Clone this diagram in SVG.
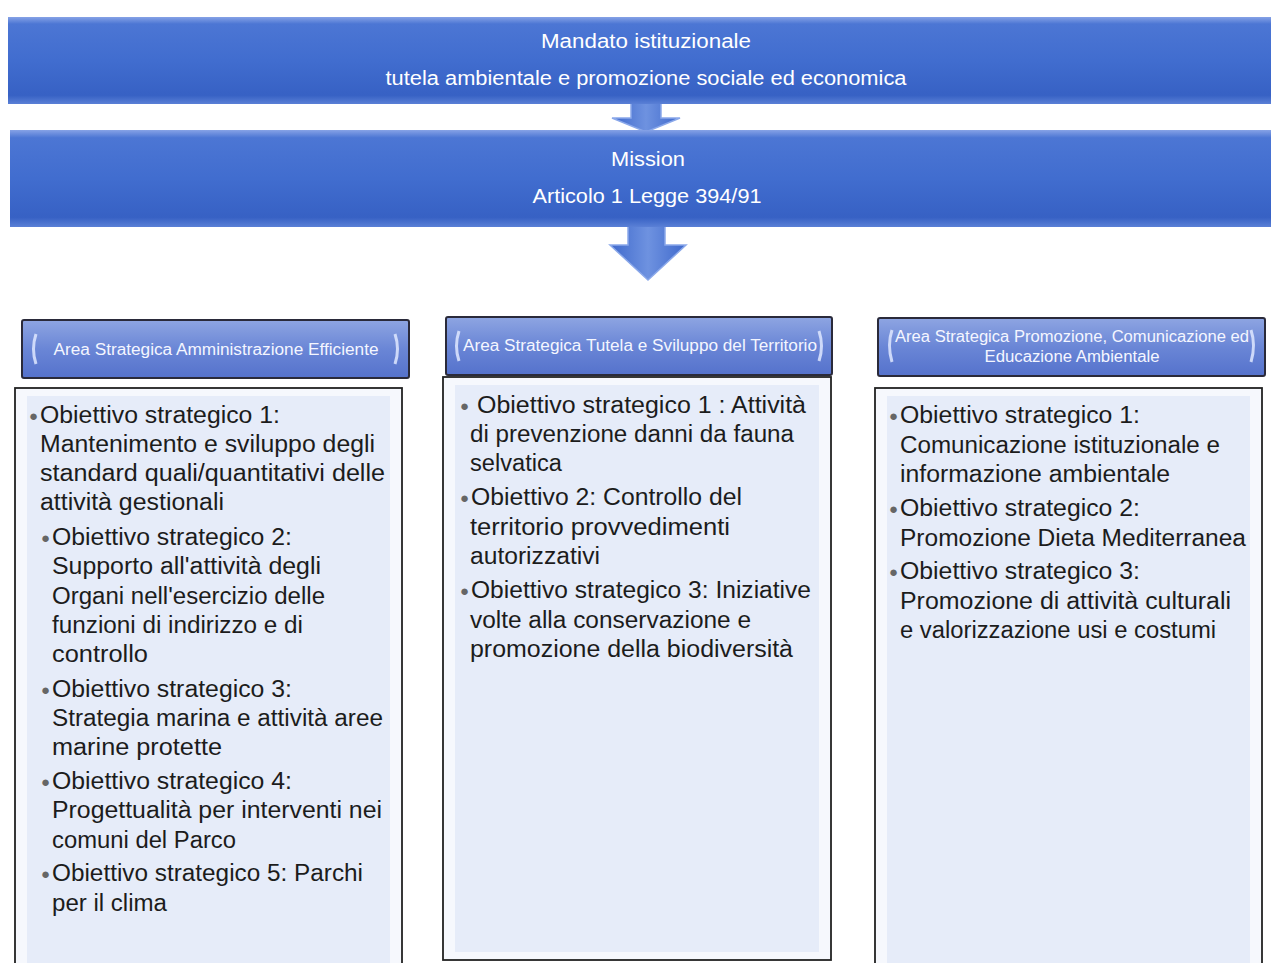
<svg xmlns="http://www.w3.org/2000/svg" width="1271" height="963" viewBox="0 0 1271 963">
<style>
.bt{font-family:"Liberation Sans",Arial,sans-serif;font-size:20px;fill:#ffffff;text-anchor:middle}
.ht{font-family:"Liberation Sans",Arial,sans-serif;font-size:16px;fill:#f4f6ff;text-anchor:middle}
.ct{font-family:"Liberation Sans",Arial,sans-serif;font-size:23.5px;fill:#1c1c1c}
.bl{font-size:15px;fill:#666}
.box{fill:#f6f8fd;stroke:#222;stroke-width:1.8}
.inner{fill:#e6ecf9;stroke:none}
.hdr{fill:url(#hdrg);stroke:#2a2a3a;stroke-width:2}
.brk{fill:none;stroke:#dfe8ff;stroke-width:3;opacity:0.85}
.arrow{fill:url(#arrg);stroke:#8aa8ea;stroke-width:1.5}
</style>
<defs>
<linearGradient id="banner" x1="0" y1="0" x2="0" y2="1">
<stop offset="0" stop-color="#86a2e6"/>
<stop offset="0.08" stop-color="#4c76d4"/>
<stop offset="0.5" stop-color="#416dcf"/>
<stop offset="0.9" stop-color="#3761c4"/>
<stop offset="1" stop-color="#5a80d6"/>
</linearGradient>
<linearGradient id="hdrg" x1="0" y1="0" x2="0" y2="1">
<stop offset="0" stop-color="#8ea5e2"/>
<stop offset="0.5" stop-color="#6a86d6"/>
<stop offset="1" stop-color="#5572cc"/>
</linearGradient>
<linearGradient id="arrg" x1="0" y1="0" x2="1" y2="0">
<stop offset="0" stop-color="#3f69cc"/>
<stop offset="0.5" stop-color="#6e92e0"/>
<stop offset="1" stop-color="#3f69cc"/>
</linearGradient>
</defs>

<g id="connectors">
<polygon class="arrow" points="631,95 661,95 661,118 680,118 646,132 612,118 631,118"/>
<polygon class="arrow" points="628,222 665,222 665,245 686,245 648,280 610,245 628,245"/>
</g>

<g id="mandato">
<rect x="8" y="17" width="1270" height="87" fill="url(#banner)"/>
<text class="bt" x="646" y="48" textLength="210" lengthAdjust="spacingAndGlyphs">Mandato istituzionale</text>
<text class="bt" x="646" y="85" textLength="521" lengthAdjust="spacingAndGlyphs">tutela ambientale e promozione sociale ed economica</text>
</g>

<g id="mission">
<rect x="10" y="130" width="1268" height="97" fill="url(#banner)"/>
<text class="bt" x="648" y="166" textLength="74" lengthAdjust="spacingAndGlyphs">Mission</text>
<text class="bt" x="647" y="203" textLength="229" lengthAdjust="spacingAndGlyphs">Articolo 1 Legge 394/91</text>
</g>

<g id="area1">
<rect class="hdr" x="22" y="320" width="387" height="58" rx="2"/>
<path class="brk" d="M36,334 Q31,349 36,364"/>
<path class="brk" d="M395,334 Q400,349 395,364"/>
<text class="ht" x="216" y="355" textLength="325" lengthAdjust="spacingAndGlyphs">Area Strategica  Amministrazione Efficiente</text>
</g>

<g id="area2">
<rect class="hdr" x="446" y="317" width="386" height="58" rx="2"/>
<path class="brk" d="M459,331 Q454,346 459,361"/>
<path class="brk" d="M819,331 Q824,346 819,361"/>
<text class="ht" x="640" y="351" textLength="354" lengthAdjust="spacingAndGlyphs">Area Strategica Tutela  e Sviluppo del Territorio</text>
</g>

<g id="area3">
<rect class="hdr" x="878" y="318" width="387" height="58" rx="2"/>
<path class="brk" d="M892,330 Q887,345 892,362"/>
<path class="brk" d="M1251,330 Q1256,345 1251,362"/>
<text class="ht" x="1072" y="342" textLength="354" lengthAdjust="spacingAndGlyphs">Area Strategica Promozione, Comunicazione ed</text>
<text class="ht" x="1072" y="362" textLength="175" lengthAdjust="spacingAndGlyphs">Educazione Ambientale</text>
</g>

<g id="obiettivi1">
<rect class="box" x="15" y="388" width="387" height="590"/>
<rect class="inner" x="27" y="396" width="363" height="580"/>
<text class="ct"><tspan class="bl" x="29" y="421">●</tspan><tspan x="40" y="423" textLength="240" lengthAdjust="spacingAndGlyphs">Obiettivo strategico 1:</tspan></text>
<text class="ct" x="40" y="452" textLength="335" lengthAdjust="spacingAndGlyphs">Mantenimento e sviluppo degli</text>
<text class="ct" x="40" y="481" textLength="345" lengthAdjust="spacingAndGlyphs">standard quali/quantitativi delle</text>
<text class="ct" x="40" y="510" textLength="184" lengthAdjust="spacingAndGlyphs">attività gestionali</text>
<text class="ct"><tspan class="bl" x="41" y="543">●</tspan><tspan x="52" y="545" textLength="240" lengthAdjust="spacingAndGlyphs">Obiettivo strategico 2:</tspan></text>
<text class="ct" x="52" y="574" textLength="269" lengthAdjust="spacingAndGlyphs">Supporto all'attività degli</text>
<text class="ct" x="52" y="604" textLength="273" lengthAdjust="spacingAndGlyphs">Organi nell'esercizio delle</text>
<text class="ct" x="52" y="633" textLength="251" lengthAdjust="spacingAndGlyphs">funzioni di indirizzo e di</text>
<text class="ct" x="52" y="662" textLength="96" lengthAdjust="spacingAndGlyphs">controllo</text>
<text class="ct"><tspan class="bl" x="41" y="695">●</tspan><tspan x="52" y="697" textLength="240" lengthAdjust="spacingAndGlyphs">Obiettivo strategico 3:</tspan></text>
<text class="ct" x="52" y="726" textLength="331" lengthAdjust="spacingAndGlyphs">Strategia marina e attività aree</text>
<text class="ct" x="52" y="755" textLength="170" lengthAdjust="spacingAndGlyphs">marine protette</text>
<text class="ct"><tspan class="bl" x="41" y="787">●</tspan><tspan x="52" y="789" textLength="240" lengthAdjust="spacingAndGlyphs">Obiettivo strategico 4:</tspan></text>
<text class="ct" x="52" y="818" textLength="330" lengthAdjust="spacingAndGlyphs">Progettualità per interventi nei</text>
<text class="ct" x="52" y="848" textLength="184" lengthAdjust="spacingAndGlyphs">comuni del Parco</text>
<text class="ct"><tspan class="bl" x="41" y="879">●</tspan><tspan x="52" y="881" textLength="311" lengthAdjust="spacingAndGlyphs">Obiettivo strategico 5: Parchi</tspan></text>
<text class="ct" x="52" y="911" textLength="115" lengthAdjust="spacingAndGlyphs">per il clima</text>
</g>

<g id="obiettivi2">
<rect class="box" x="443" y="377" width="388" height="583"/>
<rect class="inner" x="455" y="385" width="364" height="567"/>
<text class="ct"><tspan class="bl" x="460" y="411">●</tspan><tspan x="477" y="413" textLength="329" lengthAdjust="spacingAndGlyphs">Obiettivo strategico 1 : Attività</tspan></text>
<text class="ct" x="470" y="442" textLength="324" lengthAdjust="spacingAndGlyphs">di prevenzione danni da fauna</text>
<text class="ct" x="470" y="471" textLength="92" lengthAdjust="spacingAndGlyphs">selvatica</text>
<text class="ct"><tspan class="bl" x="460" y="503">●</tspan><tspan x="471" y="505" textLength="271" lengthAdjust="spacingAndGlyphs">Obiettivo 2: Controllo del</tspan></text>
<text class="ct" x="470" y="535" textLength="260" lengthAdjust="spacingAndGlyphs">territorio provvedimenti</text>
<text class="ct" x="470" y="564" textLength="130" lengthAdjust="spacingAndGlyphs">autorizzativi</text>
<text class="ct"><tspan class="bl" x="460" y="596">●</tspan><tspan x="471" y="598" textLength="340" lengthAdjust="spacingAndGlyphs">Obiettivo strategico 3: Iniziative</tspan></text>
<text class="ct" x="470" y="628" textLength="281" lengthAdjust="spacingAndGlyphs">volte alla conservazione  e</text>
<text class="ct" x="470" y="657" textLength="323" lengthAdjust="spacingAndGlyphs">promozione  della biodiversità</text>
</g>

<g id="obiettivi3">
<rect class="box" x="875" y="388" width="387" height="590"/>
<rect class="inner" x="887" y="396" width="363" height="580"/>
<text class="ct"><tspan class="bl" x="889" y="421">●</tspan><tspan x="900" y="423" textLength="240" lengthAdjust="spacingAndGlyphs">Obiettivo strategico 1:</tspan></text>
<text class="ct" x="900" y="453" textLength="320" lengthAdjust="spacingAndGlyphs">Comunicazione istituzionale e</text>
<text class="ct" x="900" y="482" textLength="270" lengthAdjust="spacingAndGlyphs">informazione ambientale</text>
<text class="ct"><tspan class="bl" x="889" y="514">●</tspan><tspan x="900" y="516" textLength="240" lengthAdjust="spacingAndGlyphs">Obiettivo strategico 2:</tspan></text>
<text class="ct" x="900" y="546" textLength="346" lengthAdjust="spacingAndGlyphs">Promozione Dieta Mediterranea</text>
<text class="ct"><tspan class="bl" x="889" y="577">●</tspan><tspan x="900" y="579" textLength="240" lengthAdjust="spacingAndGlyphs">Obiettivo strategico 3:</tspan></text>
<text class="ct" x="900" y="609" textLength="331" lengthAdjust="spacingAndGlyphs">Promozione di attività culturali</text>
<text class="ct" x="900" y="638" textLength="316" lengthAdjust="spacingAndGlyphs">e valorizzazione usi e costumi</text>
</g>
</svg>
